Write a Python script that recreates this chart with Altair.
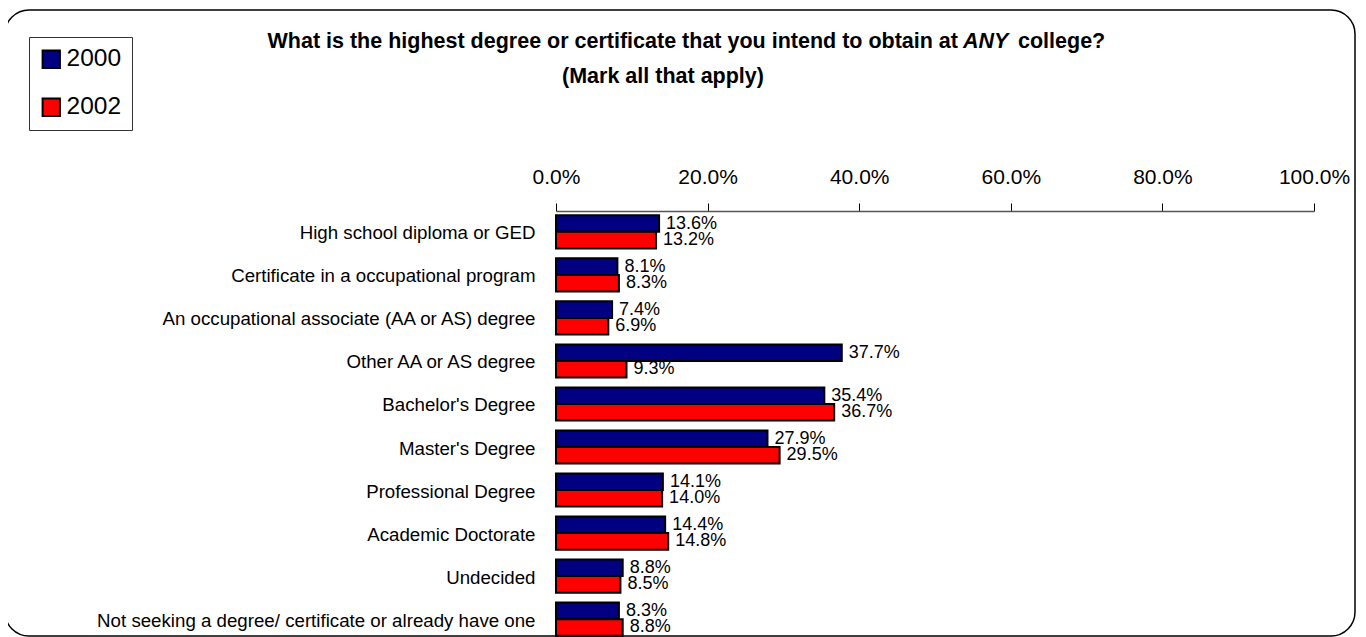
import altair as alt
import pandas as pd

categories = [
    "High school diploma or GED",
    "Certificate in a occupational program",
    "An occupational associate (AA or AS) degree",
    "Other AA or AS degree",
    "Bachelor's Degree",
    "Master's Degree",
    "Professional Degree",
    "Academic Doctorate",
    "Undecided",
    "Not seeking a degree/ certificate or already have one",
]
years = ["2000", "2002"]
v2000 = [13.6, 8.1, 7.4, 37.7, 35.4, 27.9, 14.1, 14.4, 8.8, 8.3]
v2002 = [13.2, 8.3, 6.9, 9.3, 36.7, 29.5, 14.0, 14.8, 8.5, 8.8]
colors = ["#000080", "#FF0000"]
x_ticks = [0, 20, 40, 60, 80, 100]

title_left = "What is the highest degree or certificate that you intend to obtain at"
title_any = "ANY"
title_right = "college?"
subtitle = "(Mark all that apply)"

rows = []
for c, a, b in zip(categories, v2000, v2002):
    rows.append({"category": c, "year": years[0], "value": a})
    rows.append({"category": c, "year": years[1], "value": b})
df = pd.DataFrame(rows)

FONT = "Liberation Sans"

y_enc = alt.Y(
    "category:N",
    sort=categories,
    scale=alt.Scale(paddingInner=0.23, paddingOuter=0.1),
    axis=alt.Axis(
        title=None, domain=False, ticks=False, labelFontSize=18.7,
        labelPadding=21, labelColor="black", labelFont=FONT, labelLimit=600,
        labelOffset=1.5,
    ),
)
x_enc = alt.X(
    "value:Q",
    scale=alt.Scale(domain=[0, 100], nice=False),
    axis=alt.Axis(
        orient="top", values=x_ticks, title=None, grid=False,
        labelExpr="format(datum.value, '.1f') + '%'",
        labelFontSize=21, labelFont=FONT, labelColor="black",
        labelPadding=16, tickSize=8, tickColor="black", labelFlush=False,
        domainColor="#555555", domainWidth=1.5,
    ),
)
yoff = alt.YOffset("year:N", scale=alt.Scale(domain=years, paddingInner=0, paddingOuter=0))

base = alt.Chart(df)

bars = base.mark_bar(stroke="black", strokeWidth=2).encode(
    x=x_enc,
    y=y_enc,
    yOffset=yoff,
    color=alt.Color(
        "year:N",
        scale=alt.Scale(domain=years, range=colors),
        legend=alt.Legend(
            title=None, orient="none", legendX=-527, legendY=-174,
            strokeColor="#333333", padding=10,
            symbolType="square", symbolSize=300, symbolStrokeColor="black",
            symbolStrokeWidth=2, symbolOpacity=1,
            labelFontSize=24.5, labelFont=FONT, labelColor="black",
            rowPadding=22, symbolOffset=0, labelOffset=3,
        ),
    ),
)

labels = base.transform_calculate(
    label="format(datum.value, '.1f') + '%'"
).mark_text(
    align="left", baseline="middle", dx=7, fontSize=18, font=FONT, color="black"
).encode(
    x="value:Q",
    y=alt.Y("category:N", sort=categories),
    yOffset=yoff,
    text="label:N",
)

one = pd.DataFrame({"k": [0]})

TFS = 21.5
t_left = alt.Chart(one).mark_text(
    text=title_left, align="right", baseline="middle", fontSize=TFS,
    fontWeight="bold", font=FONT, color="black",
).encode(x=alt.value(402), y=alt.value(-169))
t_any = alt.Chart(one).mark_text(
    text=title_any, align="left", baseline="middle", fontSize=TFS,
    fontWeight="bold", fontStyle="italic", font=FONT, color="black",
).encode(x=alt.value(407), y=alt.value(-169))
t_right = alt.Chart(one).mark_text(
    text=title_right, align="left", baseline="middle", fontSize=TFS,
    fontWeight="bold", font=FONT, color="black",
).encode(x=alt.value(462), y=alt.value(-169))
t_sub = alt.Chart(one).mark_text(
    text=subtitle, align="center", baseline="middle", fontSize=TFS,
    fontWeight="bold", font=FONT, color="black",
).encode(x=alt.value(107), y=alt.value(-134))

border = alt.Chart(one).mark_rect(
    fill="white", fillOpacity=0, stroke="black", strokeWidth=1.5, cornerRadius=24,
).encode(x=alt.value(-551), x2=alt.value(799), y=alt.value(-201), y2=alt.value(425))

chart = alt.layer(border, bars, labels, t_left, t_any, t_right, t_sub).properties(
    width=758, height=429,
    autosize=alt.AutoSizeParams(type="none"),
    padding={"left": 548, "top": 203, "right": 44, "bottom": 0},
).configure_view(stroke=None)

chart.save("out.html", embed_options={"renderer": "svg", "actions": False})
